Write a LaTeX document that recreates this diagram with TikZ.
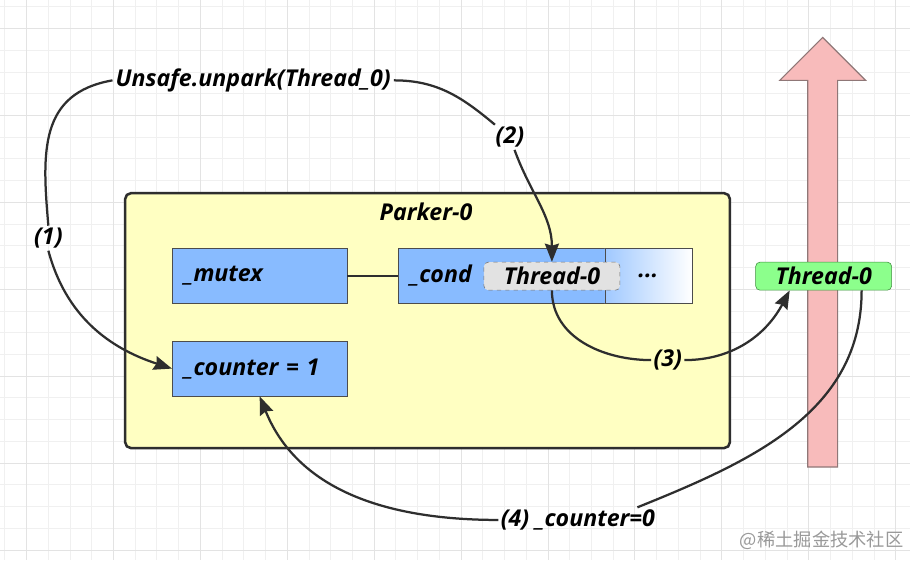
\documentclass[tikz,border=0pt]{standalone}
\usepackage{fontspec}
\setmainfont{Open Sans}
\newfontfamily\cjk{Noto Sans CJK SC}
\usetikzlibrary{arrows.meta,calc}

\definecolor{fieldblue}{HTML}{88BBFF}
\definecolor{parkeryellow}{HTML}{FFFFC2}
\definecolor{threadgreen}{HTML}{8CFF8C}
\definecolor{threadedge}{HTML}{3F8F3F}
\definecolor{pinkfill}{HTML}{F8BBBB}
\definecolor{pinkedge}{HTML}{8F7777}
\definecolor{waitgray}{HTML}{E2E2E2}
\definecolor{inkgray}{HTML}{2E2E2E}

\begin{document}
\begin{tikzpicture}[x=0.025cm, y=-0.025cm, font=\fontsize{16.5}{19}\selectfont\bfseries\itshape]
%define
\tikzstyle{field} = [rectangle, draw=black!70, fill=fieldblue, minimum height=1.375cm, text width=3.775cm, inner xsep=0.3cm, align=left]
\tikzstyle{rest} = [rectangle, draw=black!70, left color=fieldblue!80, right color=white, minimum height=1.375cm, minimum width=2.175cm]
\tikzstyle{waiter} = [rectangle, rounded corners=3pt, dashed, draw=black!55, fill=waitgray, minimum width=3.4cm, minimum height=0.7cm, inner sep=0pt]
\tikzstyle{thread} = [rectangle, rounded corners=3pt, draw=threadedge, fill=threadgreen, minimum width=3.4cm, minimum height=0.7cm, inner sep=0pt]
\tikzstyle{tag} = [inner sep=1.5pt]
\tikzstyle{link} = [draw=inkgray, line width=1.6pt]
\tikzstyle{arrow} = [link, -{Stealth[length=13pt, width=10pt, inset=1.5pt]}]

%grid
\fill[white](0,0)rectangle(910,560);
\foreach \i in {0,...,41} \draw[black!6, line width=0.5pt](4.25+\i*21.75,0)--(4.25+\i*21.75,560);
\foreach \i in {0,...,25} \draw[black!6, line width=0.5pt](0,6.25+\i*21.75)--(910,6.25+\i*21.75);
\foreach \i in {0,...,10} \draw[black!11, line width=0.6pt](26+\i*87,0)--(26+\i*87,560);
\foreach \i in {0,...,6} \draw[black!11, line width=0.6pt](0,28+\i*87)--(910,28+\i*87);

%block
\node[rectangle, rounded corners=4pt, draw=inkgray, line width=1.8pt, fill=parkeryellow, minimum width=15.125cm, minimum height=6.375cm](parker) at (427.5,320.5){};
\node(title) at (426,212){Parker-0};

%thread bar
\filldraw[fill=pinkfill, draw=pinkedge, line width=0.8pt](808,467)--(808,80)--(780,80)--(823,37)--(866,80)--(838,80)--(838,467)--cycle;

\node[field](mutex) at (259.5,275.5){\_mutex};
\node[field](counter) at (259.5,368.5){\_counter = 1};
\node[field, text width=4.575cm](cond) at (501.5,275.5){\_cond};
\node[rest](more) at (648.5,275.5){...};
\node[waiter](waiting) at (552,276){Thread-0};
\node[thread](running) at (824,276){Thread-0};
\node[inner sep=2pt](unpark) at (253,80){Unsafe.unpark(Thread\_0)};

\node[tag](step1) at (48,238){(1)};
\node[tag](step2) at (510,137){(2)};
\node[tag](step3) at (668,360){(3)};
\node[tag](step4) at (578,520){(4) \_counter=0};

\node[text=black!40, font=\normalfont\cjk\fontsize{13}{15}\selectfont](mark) at (822,540){@稀土掘金技术社区};

%line
\draw[link](mutex)--(cond);
\draw[link](unpark.west) to[out=190, in=95, looseness=1.2] (step1.north);
\draw[arrow](step1.south) to[out=-75, in=162] (counter.west);
\draw[link](unpark.east) to[out=0, in=140] (step2);
\draw[arrow](step2) to[out=-70, in=90] (waiting.north);
\draw[link](waiting.south) to[out=-90, in=180] (step3);
\draw[arrow](step3) to[out=0, in=-118] ($(running.south)+(-34,0)$);
\draw[link]($(running.south)+(38,0)$) to[out=-90, in=22] ($(step4.north east)+(-20,0)$);
\draw[arrow](step4.west) to[out=180, in=-68] (counter.south);

\useasboundingbox(0,0)rectangle(910,560);
\end{tikzpicture}
\end{document}
